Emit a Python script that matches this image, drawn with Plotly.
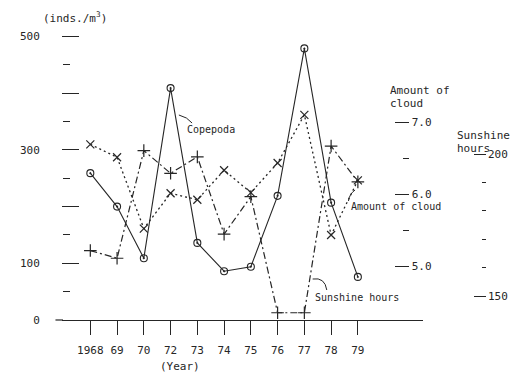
import plotly.graph_objects as go

# ---- data ----
years = ["1968", "69", "70", "72", "73", "74", "75", "76", "77", "78", "79"]
copepoda = [259, 200, 109, 409, 136, 86, 94, 219, 479, 207, 76]          # inds./m3
cloud = [6.69, 6.51, 5.52, 6.01, 5.92, 6.33, 6.02, 6.43, 7.10, 5.43, 6.19]  # amount of cloud
sunshine = [166.0, 163.3, 201.2, 193.2, 199.0, 171.8, 185.0, 144.1, 144.1, 202.8, 190.2]  # hours

left_labelled = [0, 100, 300, 500]
left_labels = ["0", "100", "300", "500"]
left_unlabelled = [200, 400]
left_short = [50, 150, 250, 350, 450]
cloud_ticks = [5.0, 6.0, 7.0]
cloud_ticktext = ["5.0", "6.0", "7.0"]
cloud_minor = [5.5, 6.5]
sun_ticks = [150, 200]
sun_ticktext = ["150", "200"]
sun_minor = [160, 170, 180, 190]

# ---- layout helpers (reference pixels -> paper) ----
OFF = 8                      # default page margin around the plot div
FW, FH = 528 - 2 * OFF, 380 - 2 * OFF
L, R, T, B = 48, 497, 30, 320  # plot area in reference pixels


def xp(px):
    return (px - L) / (R - L)


def yp(py):
    return (B - py) / (B - T)


Y_LEFT = [0, (B - T) / 0.567]
Y_CLOUD = [5 + (266 - B) / 72, 5 + (266 - T) / 72]
Y_SUN = [150 - (B - 296) / 2.84, 150 + (296 - T) / 2.84]

INK = "#262626"
FONT = "DejaVu Sans Mono"
tf = dict(family=FONT, size=11, color=INK)

fig = go.Figure()
fig.add_trace(go.Scatter(
    x=years, y=copepoda, mode="lines+markers", name="Copepoda", yaxis="y",
    line=dict(color=INK, width=1.1),
    marker=dict(symbol="circle-open-dot", size=7, color=INK, line=dict(width=1.1, color=INK)),
))
fig.add_trace(go.Scatter(
    x=years, y=cloud, mode="lines+markers", name="Amount of cloud", yaxis="y2",
    line=dict(color=INK, width=1.3, dash="2px,3px"),
    marker=dict(symbol="x-thin-open", size=8, color=INK, line=dict(width=1.2, color=INK)),
))
fig.add_trace(go.Scatter(
    x=years, y=sunshine, mode="lines+markers", name="Sunshine hours", yaxis="y3",
    line=dict(color=INK, width=1.2, dash="7px,3px,2px,3px"),
    marker=dict(symbol="cross-thin-open", size=9, color=INK, line=dict(width=1.2, color=INK)),
))
# empty helper trace so the short-tick axis of the left scale gets drawn
fig.add_trace(go.Scatter(x=[years[0]], y=[None], yaxis="y4", mode="lines",
                         hoverinfo="skip", showlegend=False))

common = dict(showline=False, showgrid=False, zeroline=False, tickfont=tf)

fig.update_layout(
    width=FW, height=FH,
    margin=dict(l=L - OFF, r=(FW + OFF) - R, t=T - OFF, b=(FH + OFF) - B, pad=0),
    paper_bgcolor="white", plot_bgcolor="white",
    showlegend=False,
    font=tf,
    xaxis=dict(
        type="category", domain=[0, xp(430)], range=[-1.021, 12.43],
        showline=True, linecolor=INK, linewidth=1.2,
        ticks="outside", ticklen=14, tickwidth=1.2, tickcolor=INK,
        tickfont=tf, ticklabelstandoff=6,
        showgrid=False, zeroline=False, anchor="y",
    ),
    yaxis=dict(
        range=Y_LEFT, anchor="free", position=xp(65), side="left",
        tickvals=left_labelled, ticktext=left_labels,
        ticks="outside", ticklen=17, tickwidth=1.2, tickcolor=INK,
        minor=dict(tickvals=left_unlabelled, ticks="outside", ticklen=17, tickwidth=1.2, tickcolor=INK),
        ticklabelstandoff=20, **common,
    ),
    yaxis4=dict(
        range=Y_LEFT, overlaying="y", anchor="free", position=xp(55), side="left",
        tickvals=left_short, showticklabels=False,
        ticks="outside", ticklen=7, tickwidth=1.2, tickcolor=INK, **common,
    ),
    yaxis2=dict(
        range=Y_CLOUD, overlaying="y", anchor="free", position=xp(415), side="right",
        tickvals=cloud_ticks, ticktext=cloud_ticktext,
        ticks="inside", ticklen=14, tickwidth=1.2, tickcolor=INK,
        minor=dict(tickvals=cloud_minor, ticks="inside", ticklen=6, tickwidth=1.2, tickcolor=INK),
        ticklabelstandoff=2, **common,
    ),
    yaxis3=dict(
        range=Y_SUN, overlaying="y", anchor="free", position=1.0, side="right",
        tickvals=sun_ticks, ticktext=sun_ticktext,
        ticks="inside", ticklen=12, tickwidth=1.2, tickcolor=INK,
        minor=dict(tickvals=sun_minor, ticks="inside", ticklen=4, tickwidth=1.2, tickcolor=INK),
        ticklabelstandoff=1, **common,
    ),
)

ann = []


def text(s, px, py, anchor="left", size=11):
    ann.append(dict(text=s, x=xp(px), y=yp(py), xref="paper", yref="paper",
                    xanchor=anchor, yanchor="middle", showarrow=False,
                    font=dict(family=FONT, size=size, color=INK)))


text("(inds./m<sup>3</sup>)", 25, 18)
text("Amount of", 393, 90)
text("cloud", 393, 104)
text("Sunshine", 464, 136)
text("hours", 464, 148)
text("Copepoda", 178, 129, size=10)
text("Amount of cloud", 352, 206, size=10)
text("Sunshine hours", 313, 297, size=10)
text("(Year)", 172, 366, anchor="center")
fig.update_layout(annotations=ann)

shapes = [
    # baseline starts a little left of the plotting area
    dict(type="line", xref="paper", yref="paper", x0=xp(40), x1=xp(48), y0=yp(320), y1=yp(320),
         line=dict(color=INK, width=1.2)),
    # leader lines for the curve labels
    dict(type="path", xref="paper", yref="paper",
         path=f"M {xp(171)},{yp(115)} Q {xp(180)},{yp(117)} {xp(185)},{yp(123)}",
         line=dict(color=INK, width=1)),
    dict(type="path", xref="paper", yref="paper",
         path=f"M {xp(358)},{yp(190)} Q {xp(352)},{yp(194)} {xp(351)},{yp(201)}",
         line=dict(color=INK, width=1)),
    dict(type="path", xref="paper", yref="paper",
         path=f"M {xp(313)},{yp(279)} Q {xp(326)},{yp(277)} {xp(328)},{yp(290)}",
         line=dict(color=INK, width=1)),
]
fig.update_layout(shapes=shapes)

fig.write_html("out.html")
